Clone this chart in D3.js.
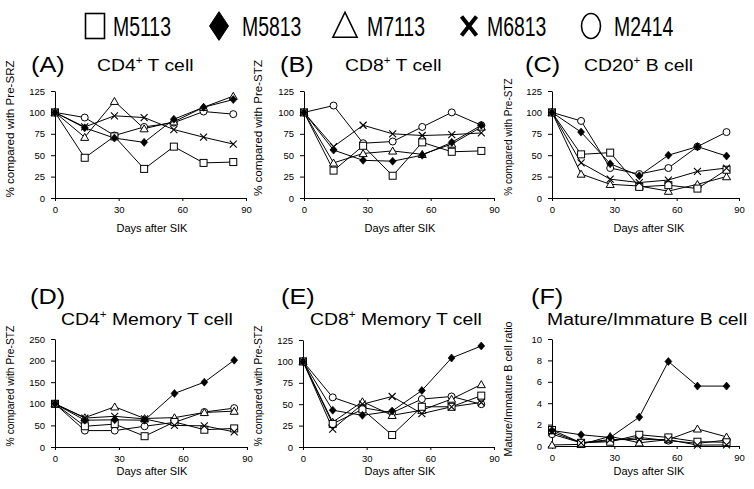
<!DOCTYPE html>
<html><head><meta charset="utf-8">
<script src="https://cdn.jsdelivr.net/npm/d3@7"></script>
<style>
html,body{margin:0;padding:0;background:#fff;}
svg{display:block;font-family:"Liberation Sans",Arial,sans-serif;}
</style></head>
<body><svg id="c" width="754" height="489"></svg>
<script>
// ---------- data ----------
const days = [0, 14, 28, 42, 56, 70, 84];
const seriesNames = ["M5113", "M5813", "M7113", "M6813", "M2414"];
const xTicks = [0, 30, 60, 90];
const yTicksPct = [0, 25, 50, 75, 100, 125];
const yTicksMemCD4 = [0, 50, 100, 150, 200, 250];
const yTicksRatio = [0, 2, 4, 6, 8, 10];

// values per series, in seriesNames order
const cd4T = [
  [100, 47, 72, 34, 60, 41, 42],
  [100, 82, 70, 65, 92, 106, 115],
  [100, 71, 113, 81, 89, 106, 119],
  [100, 83, 96, 94, 80, 71, 63],
  [100, 94, 73, 83, 88, 101, 98]
];
const cd8T = [
  [100, 32, 61, 26, 65, 54, 55],
  [100, 56, 44, 43, 50, 65, 85],
  [100, 41, 52, 55, 51, 63, 83],
  [100, 60, 85, 75, 73, 74, 76],
  [100, 108, 64, 66, 83, 100, 85]
];
const cd20B = [
  [100, 51, 53, 13, 15, 11, 33],
  [100, 77, 40, 26, 50, 60, 49],
  [100, 28, 16, 14, 8, 16, 25],
  [100, 41, 22, 18, 21, 31, 35],
  [100, 90, 35, 28, 35, 60, 77]
];
const cd4Mem = [
  [100, 48, 53, 25, 58, 40, 43],
  [100, 62, 63, 62, 124, 150, 201],
  [100, 68, 93, 66, 68, 80, 83],
  [100, 67, 71, 65, 50, 49, 35],
  [100, 38, 38, 48, 57, 81, 90]
];
const cd8Mem = [
  [100, 27, 44, 14, 47, 47, 60],
  [100, 43, 37, 42, 66, 104, 118],
  [100, 29, 53, 37, 43, 56, 73],
  [100, 21, 50, 59, 39, 47, 52],
  [100, 58, 46, 40, 56, 59, 50]
];
const bRatio = [
  [1.5, 0.3, 0.4, 1.05, 0.8, 0.4, 0.35],
  [1.45, 1.05, 0.8, 2.7, 7.9, 5.6, 5.6],
  [0.1, 0.15, 0.9, 0.3, 0.6, 1.6, 0.85],
  [1.3, 0.3, 0.6, 0.6, 0.6, 0.08, 0.1],
  [1.1, 0.3, 0.5, 0.8, 0.5, 0.25, 0.55]
];

const panelLetters = ["(A)", "(B)", "(C)", "(D)", "(E)", "(F)"];
const panelTitles = [["CD4", "+", " T cell"], ["CD8", "+", " T cell"], ["CD20", "+", " B cell"],
  ["CD4", "+", " Memory T cell"], ["CD8", "+", " Memory T cell"], ["Mature/Immature B cell", "", ""]];
const yTitles = ["% compared with Pre-SRZ", "% compared with Pre-STZ", "% compared with Pre-STZ",
  "% compared with Pre-STZ", "% compared with Pre-STZ", "Mature/Immature B cell ratio"];
const xTitle = "Days after SIK";

// ---------- layout ----------
const panels = [
  {data: cd4T, yMax: 125, yTicks: yTicksPct, x0: 55, x1: 246, yT: 91, yB: 198, letterX: 31, letterY: 72, titleX: 97, titleY: 71, ytX: 10, ytY: 129, ytFs: 11.6, xtX: 152, xtY: 232},
  {data: cd8T, yMax: 125, yTicks: yTicksPct, x0: 304, x1: 494, yT: 91, yB: 198, letterX: 280, letterY: 72, titleX: 345, titleY: 71, ytX: 258, ytY: 128, ytFs: 11.6, xtX: 400, xtY: 232},
  {data: cd20B, yMax: 125, yTicks: yTicksPct, x0: 552, x1: 739, yT: 91, yB: 198, letterX: 525, letterY: 72, titleX: 584, titleY: 71, ytX: 508, ytY: 137, ytFs: 10, xtX: 649, xtY: 232},
  {data: cd4Mem, yMax: 250, yTicks: yTicksMemCD4, x0: 55, x1: 247, yT: 339, yB: 447, letterX: 30, letterY: 304, titleX: 61, titleY: 325, ytX: 10, ytY: 386, ytFs: 10.3, xtX: 152, xtY: 475},
  {data: cd8Mem, yMax: 125, yTicks: yTicksPct, x0: 303, x1: 494, yT: 340, yB: 447, letterX: 281, letterY: 304, titleX: 310, titleY: 325, ytX: 258, ytY: 386, ytFs: 10.3, xtX: 400, xtY: 475},
  {data: bRatio, yMax: 10, yTicks: yTicksRatio, x0: 552, x1: 739, yT: 339, yB: 446, letterX: 531, letterY: 304, titleX: 547, titleY: 325, ytX: 508, ytY: 389, ytFs: 10.75, xtX: 649, xtY: 475}
];

const svg = d3.select("#c");
const markerTypes = ["square", "diamond", "triangle", "cross", "circle"];

function drawMarker(g, type, x, y, s) {
  // s: half-size scale for x, sy for y
  const sx = s.sx, sy = s.sy, sw = s.sw;
  if (type === "square") {
    g.append("rect").attr("x", x - sx).attr("y", y - sy).attr("width", 2 * sx).attr("height", 2 * sy)
      .attr("fill", "#fff").attr("stroke", "#000").attr("stroke-width", sw);
  } else if (type === "diamond") {
    g.append("path").attr("d", `M${x},${y - sy * 1.15}L${x + sx},${y}L${x},${y + sy * 1.15}L${x - sx},${y}Z`)
      .attr("fill", "#000").attr("stroke", "#000").attr("stroke-width", sw * 0.6);
  } else if (type === "triangle") {
    g.append("path").attr("d", `M${x},${y - sy * 1.1}L${x + sx * 1.15},${y + sy * 0.9}L${x - sx * 1.15},${y + sy * 0.9}Z`)
      .attr("fill", "#fff").attr("stroke", "#000").attr("stroke-width", sw).attr("stroke-linejoin", "miter");
  } else if (type === "cross") {
    g.append("path").attr("d", `M${x - sx},${y - sy}L${x + sx},${y + sy}M${x - sx},${y + sy}L${x + sx},${y - sy}`)
      .attr("stroke", "#000").attr("stroke-width", s.cw || sw).attr("fill", "none");
  } else if (type === "circle") {
    g.append("ellipse").attr("cx", x).attr("cy", y).attr("rx", sx).attr("ry", sy)
      .attr("fill", "#fff").attr("stroke", "#000").attr("stroke-width", sw);
  }
}

function styledText(g, x, y, parts, fs, sx, anchor) {
  const t = g.append("text").attr("transform", `translate(${x},${y}) scale(${sx},1)`)
    .attr("font-size", fs).attr("fill", "#000").attr("text-anchor", anchor || "start");
  t.append("tspan").text(parts[0]);
  if (parts[1]) {
    t.append("tspan").attr("font-size", fs * 0.6).attr("dy", -fs * 0.38).text(parts[1]);
    t.append("tspan").attr("dy", fs * 0.38).text(parts[2]);
  }
  return t;
}

panels.forEach((p, i) => {
  const g = svg.append("g");
  const x = d3.scaleLinear().domain([0, 90]).range([p.x0, p.x1]);
  const y = d3.scaleLinear().domain([0, p.yMax]).range([p.yB, p.yT]);

  // axes
  const yAxis = d3.axisLeft(y).tickValues(p.yTicks).tickSize(4).tickPadding(6).tickSizeOuter(0);
  const xAxis = d3.axisBottom(x).tickValues(xTicks).tickSize(3).tickPadding(5).tickSizeOuter(0);
  const ya = g.append("g").attr("transform", `translate(${p.x0},0)`).call(yAxis);
  const xa = g.append("g").attr("transform", `translate(0,${p.yB})`).call(xAxis);
  [ya, xa].forEach(a => {
    a.select(".domain").attr("stroke", "#000").attr("stroke-width", 1);
    a.selectAll(".tick line").attr("stroke", "#000");
    a.selectAll(".tick text").attr("font-size", 9.5).attr("fill", "#000")
      .attr("font-family", '"Liberation Sans",Arial,sans-serif');
  });

  // lines
  const line = d3.line().x((d, j) => x(days[j])).y(d => y(d));
  p.data.forEach(vals => {
    g.append("path").attr("d", line(vals)).attr("fill", "none").attr("stroke", "#000").attr("stroke-width", 1);
  });
  // markers
  const ms = {sx: 3.5, sy: 3.5, sw: 1, cw: 1.1};
  const order = [4, 2, 0, 3, 1];
  order.forEach(si => {
    p.data[si].forEach((v, j) => drawMarker(g, markerTypes[si], x(days[j]), y(v), ms));
  });

  // titles
  styledText(g, p.letterX, p.letterY, [panelLetters[i], "", ""], 22, 1.15);
  styledText(g, p.titleX, p.titleY, panelTitles[i], 17.3, 1.12);
  g.append("text").attr("transform", `translate(${p.ytX + p.ytFs * 0.35},${p.ytY}) rotate(-90)`)
    .attr("text-anchor", "middle").attr("font-size", p.ytFs).text(yTitles[i]);
  g.append("text").attr("x", p.xtX).attr("y", p.xtY).attr("text-anchor", "middle")
    .attr("font-size", 11).text(xTitle);
});

// legend
const legendSym = [95, 219, 345, 469, 591];
const legendTxt = [113, 242, 367, 487, 614];
const lg = svg.append("g");
seriesNames.forEach((n, i) => {
  drawMarker(lg, markerTypes[i], legendSym[i], 26, {sx: markerTypes[i] === "cross" ? 7.5 : (markerTypes[i] === "triangle" ? 10.5 : 9.5), sy: markerTypes[i] === "cross" ? 9.5 : 12.5, sw: 1.6, cw: 4});
  lg.append("text").attr("transform", `translate(${legendTxt[i]},36) scale(0.72,1)`)
    .attr("font-size", 27).attr("fill", "#000").text(n);
});
</script></body></html>
